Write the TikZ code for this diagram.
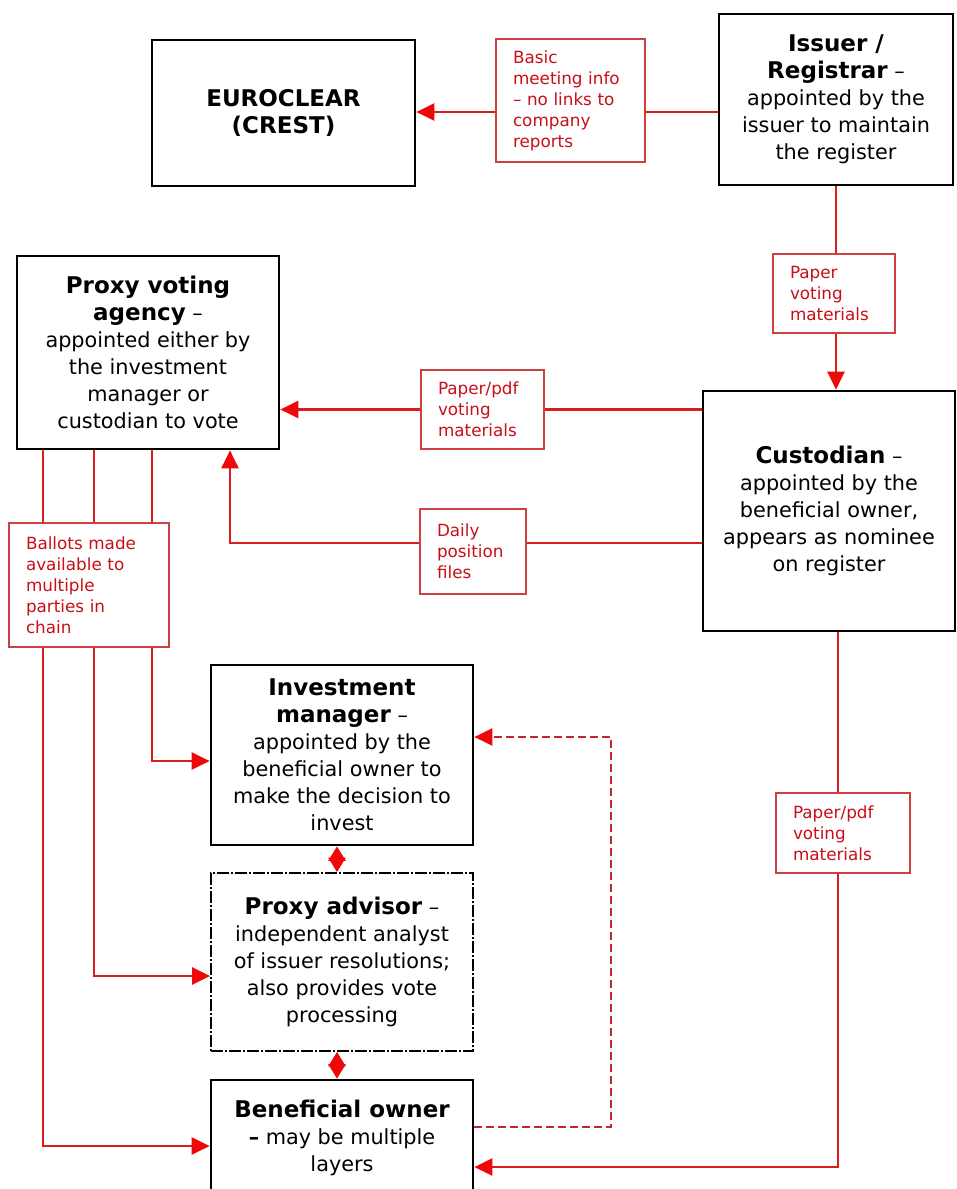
\documentclass[tikz,border=0pt]{standalone}
\usepackage{fontspec}
\setmainfont{DejaVu Sans}
\usetikzlibrary{arrows.meta,calc}
\definecolor{lnred}{RGB}{218,30,30}
\definecolor{tipred}{RGB}{238,8,8}
\definecolor{lblred}{RGB}{200,15,25}
\definecolor{lblborder}{RGB}{205,65,65}
\definecolor{dashred}{RGB}{195,40,50}
\newcommand\hd[1]{{\fontsize{23}{27}\selectfont\bfseries #1}}
\begin{document}
\begin{tikzpicture}[x=1pt,y=-1pt,
  box/.style={draw=black,line width=2.7pt,align=center,inner sep=0pt,fill=white,
    font=\fontsize{20.8}{27}\selectfont},
  lbl/.style={draw=lblborder,line width=1.4pt,text=lblred,align=left,fill=white,
    inner xsep=17pt,inner ysep=0pt,font=\fontsize{16.8}{21}\selectfont},
  conn/.style={draw=lnred,line width=2.5pt},
  tip/.style={-{Triangle[length=18pt,width=17pt,color=tipred]}},
  arr/.style={conn,tip},
  darr/.style={conn,{Triangle[length=14.5pt,width=17pt,color=tipred]}-{Triangle[length=14.5pt,width=17pt,color=tipred]}},
  dsh/.style={draw=dashred,line width=2.5pt,dash pattern=on 8pt off 4pt,tip},
]
\useasboundingbox (0,0) rectangle (957,1189);
\fill[white] (0,0) rectangle (957,1189);
\clip (0,0) rectangle (957,1189);

% ---- main boxes ----
\node[box,minimum width=263pt,minimum height=146pt] (euro) at (283.5,113)
  {\hd{EUROCLEAR}\\\hd{(CREST)}};
\node[box,minimum width=234pt,minimum height=171pt] (issuer) at (836,99.5)
  {\hd{Issuer /}\\\hd{Registrar} –\\appointed by the\\issuer to maintain\\the register};
\node[box,minimum width=262pt,minimum height=193pt] (pva) at (148,352.5)
  {\hd{Proxy voting}\\\hd{agency} –\\appointed either by\\the investment\\manager or\\custodian to vote};
\node[box,minimum width=252pt,minimum height=240pt] (cust) at (829,511)
  {\hd{Custodian} –\\appointed by the\\beneficial owner,\\appears as nominee\\on register};
\node[box,minimum width=262pt,minimum height=180pt] (im) at (342,755)
  {\hd{Investment}\\\hd{manager} –\\appointed by the\\beneficial owner to\\make the decision to\\invest};
\node[box,line width=1.8pt,dash pattern=on 12pt off 2pt on 2pt off 2pt,
  minimum width=262pt,minimum height=178pt] (pa) at (342,962)
  {\hd{Proxy advisor} –\\independent analyst\\of issuer resolutions;\\also provides vote\\processing};
\node[box,minimum width=262pt,minimum height=115pt] (bo) at (342,1137.5)
  {\hd{Beneficial owner}\\\textbf{–} may be multiple\\layers};

% ---- red labels ----
\node[lbl,text width=115pt,minimum height=123pt] (basic) at (570.5,100.5)
  {Basic\\meeting info\\– no links to\\company\\reports};
\node[lbl,text width=88pt,minimum height=79pt] (pv) at (834,293.5)
  {Paper\\voting\\materials};
\node[lbl,text width=89pt,minimum height=79pt] (pm) at (482.5,409.5)
  {Paper/pdf\\voting\\materials};
\node[lbl,text width=72pt,minimum height=85pt] (daily) at (473,551.5)
  {Daily\\position\\files};
\node[lbl,text width=126pt,minimum height=124pt] (ballots) at (89,585)
  {Ballots made\\available to\\multiple\\parties in\\chain};
\node[lbl,text width=100pt,minimum height=80pt] (pl) at (843,833)
  {Paper/pdf\\voting\\materials};

% ---- helper coordinates ----
\coordinate (yA) at (0,112);
\coordinate (yD) at (0,543);
\coordinate (xD) at (230,0);
\coordinate (x1) at (43,0);
\coordinate (x2) at (94,0);
\coordinate (x3) at (152,0);
\coordinate (yIM) at (0,761);
\coordinate (yPA) at (0,976);
\coordinate (yBO) at (0,1146);
\coordinate (xM) at (337,0);
\coordinate (xR) at (611,0);
\coordinate (yDa) at (0,1127);
\coordinate (yDb) at (0,737);
\coordinate (xC) at (838,0);
\coordinate (yE) at (0,1167);

% ---- connectors ----
\draw[conn] (issuer.west |- yA) -- (basic.east |- yA);
\draw[arr] (basic.west |- yA) -- (euro.east |- yA);

\draw[conn] (issuer.south) -- (issuer.south |- pv.north);
\draw[arr] (issuer.south |- pv.south) -- (issuer.south |- cust.north);

\draw[conn] (cust.west |- pm.east) -- (pm.east);
\draw[arr] (pm.west) -- (pva.east |- pm.west);

\draw[conn] (cust.west |- yD) -- (daily.east |- yD);
\draw[arr] (daily.west |- yD) -- (xD |- yD) -- (xD |- pva.south);

\draw[conn] (x1 |- pva.south) -- (x1 |- ballots.north);
\draw[conn] (x2 |- pva.south) -- (x2 |- ballots.north);
\draw[conn] (x3 |- pva.south) -- (x3 |- ballots.north);
\draw[arr] (x3 |- ballots.south) -- (x3 |- yIM) -- (im.west |- yIM);
\draw[arr] (x2 |- ballots.south) -- (x2 |- yPA) -- (pa.west |- yPA);
\draw[arr] (x1 |- ballots.south) -- (x1 |- yBO) -- (bo.west |- yBO);

\draw[darr] (xM |- im.south) -- (xM |- pa.north);
\draw[darr] (xM |- pa.south) -- (xM |- bo.north);

\draw[dsh] (bo.east |- yDa) -- (xR |- yDa) -- (xR |- yDb) -- (im.east |- yDb);

\draw[conn] (xC |- cust.south) -- (xC |- pl.north);
\draw[arr] (xC |- pl.south) -- (xC |- yE) -- (bo.east |- yE);
\end{tikzpicture}
\end{document}
